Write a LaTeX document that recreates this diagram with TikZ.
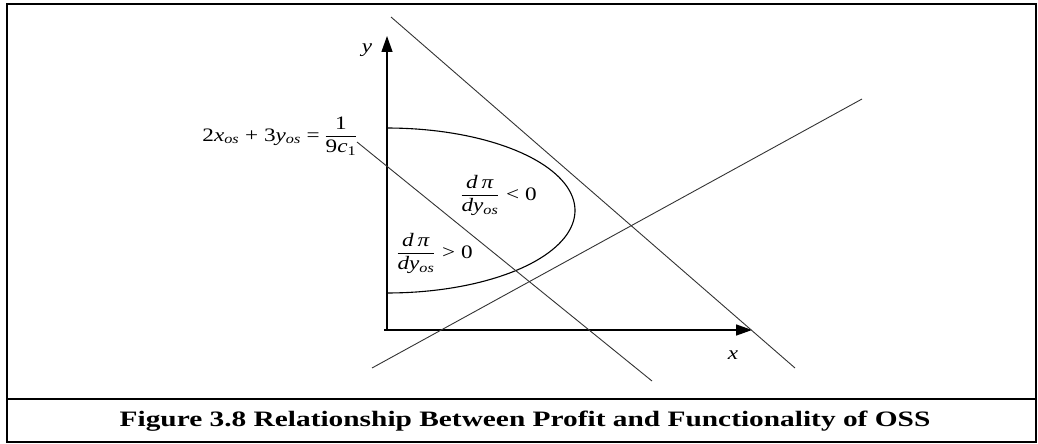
\documentclass[tikz,border=0pt]{standalone}
\usepackage{amsmath}
\usepackage{fontspec}
\setmainfont{Liberation Serif}
\usetikzlibrary{arrows.meta}
\newcommand{\vi}[1]{\textit{#1}}
\newcommand{\sbi}[1]{\textsubscript{\textit{#1}}}
\newcommand{\tfr}[2]{$\displaystyle\genfrac{}{}{0.8pt}{}{\hbox{#1}}{\hbox{#2}}$}
\newcommand{\wide}[1]{\scalebox{1.22}[1]{#1}}
\begin{document}
\begin{tikzpicture}[x=1pt,y=-1pt,
  frame/.style={line width=2pt},
  thinline/.style={line width=0.9pt, black!80},
  axis/.style={line width=1.6pt, -{Triangle[length=16pt,width=11pt]}},
  lbl/.style={inner sep=0pt, font=\fontsize{19}{21}\selectfont},
  caption/.style={inner sep=0pt, font=\fontsize{22}{24}\selectfont\bfseries}]
\useasboundingbox (0,0) rectangle (1038,444);
\draw[frame] (7,4) rectangle (1036,442);
\draw[frame] (7,399) -- (1036,399);
\node[caption] (cap) at (525,421) {\scalebox{1.335}[1]{Figure 3.8 Relationship Between Profit and Functionality of OSS}};
% axes
\coordinate (O) at (387,330);
\coordinate (ytip) at (387,36);
\coordinate (xtip) at (752,330);
\draw[axis] (384,330) -- (xtip);
\draw[axis, line width=1.3pt] (O) -- (ytip);
\node[lbl] (ylab) at (367,50) {\wide{\vi{y}}};
\node[lbl] (xlab) at (733,355) {\wide{\vi{x}}};
% half ellipse
\draw[line width=1.1pt] plot[domain=-90:90, samples=80] ({387+188*cos(\x)},{210.5+82.5*sin(\x)});
% lines
\coordinate (a1) at (391,17);
\coordinate (a2) at (795,368);
\coordinate (b1) at (357,142);
\coordinate (b2) at (652,381);
\coordinate (c1) at (372,368);
\coordinate (c2) at (862,99);
\draw[thinline] (a1) -- (a2);
\draw[thinline] (b1) -- (b2);
\draw[thinline] (c1) -- (c2);
% labels
\node[lbl, anchor=base east] (eq) at (320,141) {\wide{2\vi{x}\sbi{os} + 3\vi{y}\sbi{os} =}};
\node[lbl, anchor=base] (eqf) at (341,141) {\wide{\tfr{1}{9\vi{c}\textsubscript{1}}}};
\node[lbl, anchor=base] (fneg) at (480,200) {\wide{\tfr{\vi{d}\,\vi{π}}{\vi{dy}\sbi{os}}}};
\node[lbl, anchor=base west] (neg) at (506,200) {\wide{< 0}};
\node[lbl, anchor=base] (fpos) at (416,258) {\wide{\tfr{\vi{d}\,\vi{π}}{\vi{dy}\sbi{os}}}};
\node[lbl, anchor=base west] (pos) at (442,258) {\wide{> 0}};
\end{tikzpicture}
\end{document}
